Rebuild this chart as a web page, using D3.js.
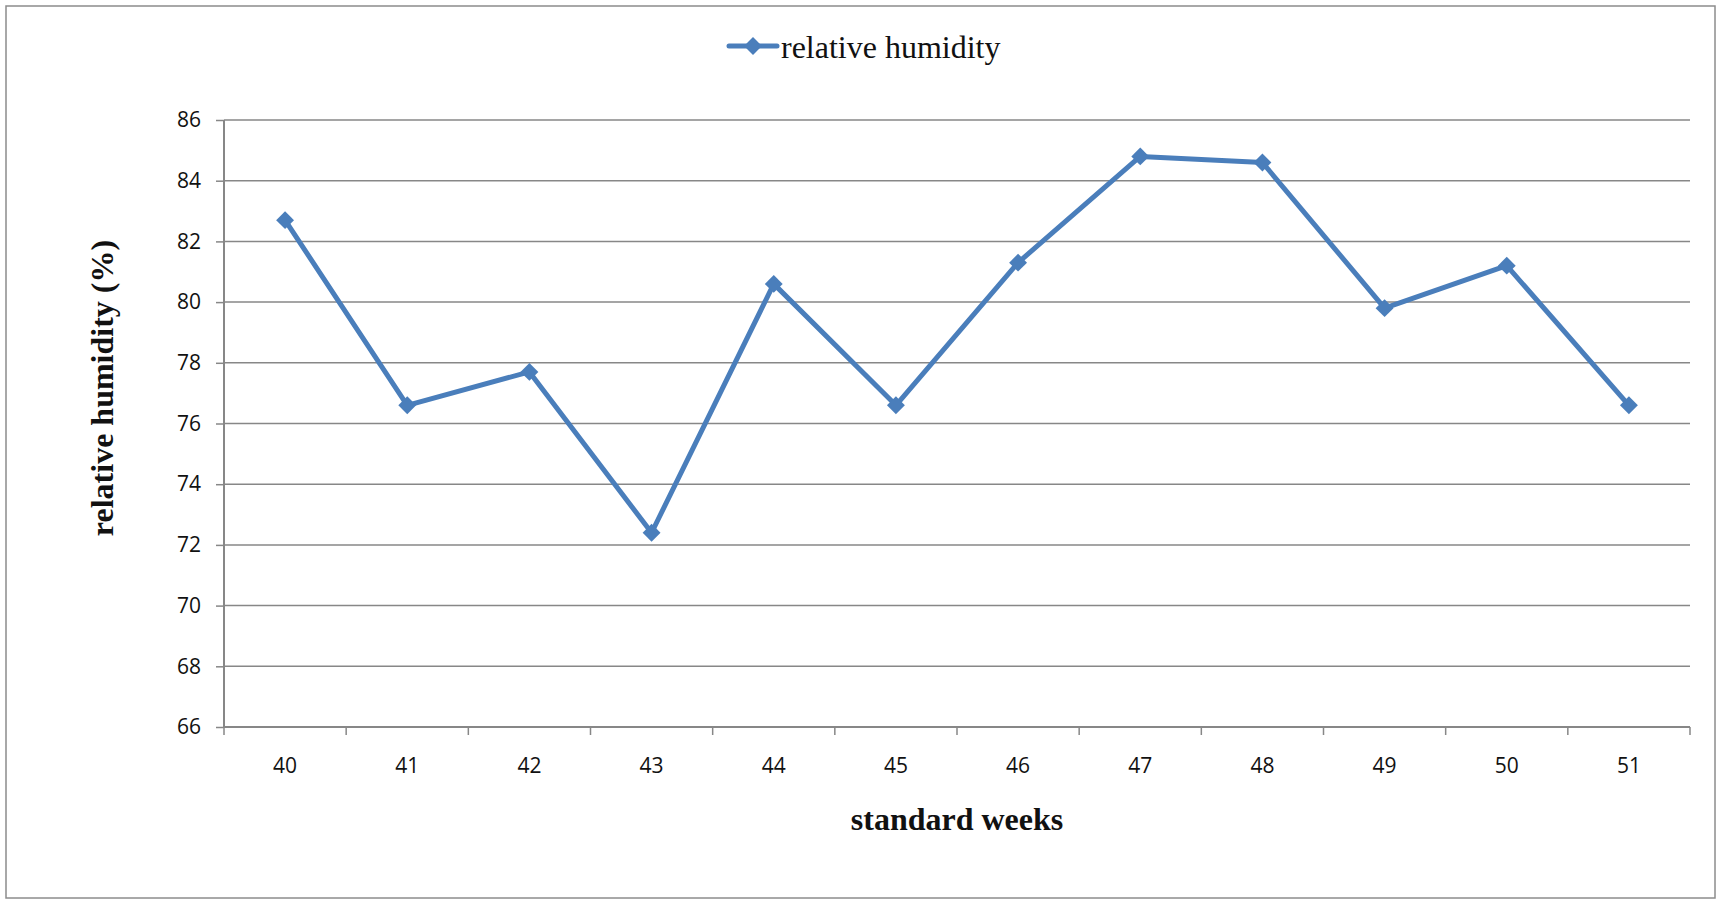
<!DOCTYPE html>
<html>
<head>
<meta charset="utf-8">
<script src="https://cdn.jsdelivr.net/npm/d3@7"></script>
<style>
  html, body { margin: 0; padding: 0; background: #fff; }
  svg { display: block; }
</style>
</head>
<body>
<svg id="chart" width="1721" height="900"></svg>
<script>
const weeks = ["40","41","42","43","44","45","46","47","48","49","50","51"];
const humidity = [82.7, 76.6, 77.7, 72.4, 80.6, 76.6, 81.3, 84.8, 84.6, 79.8, 81.2, 76.6];
const yTicks = [66, 68, 70, 72, 74, 76, 78, 80, 82, 84, 86];
const seriesName = "relative humidity";
const xTitle = "standard weeks";
const yTitle = "relative humidity (%)";

(function () {
const svg = d3.select("#chart");
const W = 1721, H = 900;
const pLeft = 224, pRight = 1690, pTop = 120, pBottom = 727;
const blue = "#4A7EBB";
const grid = "#878787";

// outer border
svg.append("rect").attr("x", 6).attr("y", 6).attr("width", W - 12).attr("height", H - 8)
  .attr("fill", "#fff").attr("stroke", "#8c8c8c").attr("stroke-width", 1.5);

const x = d3.scaleBand().domain(weeks).range([pLeft, pRight]).padding(0);
const y = d3.scaleLinear().domain([66, 86]).range([pBottom, pTop]);

// gridlines
svg.append("g").selectAll("line").data(yTicks.filter(d => d !== 66)).join("line")
  .attr("x1", pLeft).attr("x2", pRight)
  .attr("y1", d => y(d)).attr("y2", d => y(d))
  .attr("stroke", grid).attr("stroke-width", 1.5);

// y axis
const yAxis = svg.append("g").attr("transform", `translate(${pLeft},0)`)
  .call(d3.axisLeft(y).tickValues(yTicks).tickSize(8).tickPadding(15).tickFormat(d3.format("d")));
yAxis.select(".domain").attr("stroke", grid).attr("stroke-width", 2).attr("d", `M0,${pTop}V${pBottom}`);
yAxis.selectAll(".tick line").attr("stroke", grid).attr("stroke-width", 1.5);
yAxis.selectAll(".tick text").attr("font-family", "'Open Sans', sans-serif").attr("font-size", 21).attr("fill", "#111");

// x axis
const xAxis = svg.append("g").attr("transform", `translate(0,${pBottom})`)
  .call(d3.axisBottom(x).tickSize(0).tickPadding(31));
xAxis.select(".domain").attr("stroke", grid).attr("stroke-width", 2).attr("d", `M${pLeft},0H${pRight}`);
xAxis.selectAll(".tick text").attr("font-family", "'Open Sans', sans-serif").attr("font-size", 21).attr("fill", "#111");
const bounds = weeks.map(w => x(w)).concat([x(weeks[weeks.length-1]) + x.bandwidth()]);
svg.append("g").selectAll("line").data(bounds).join("line")
  .attr("x1", d => d).attr("x2", d => d).attr("y1", pBottom).attr("y2", pBottom + 8)
  .attr("stroke", grid).attr("stroke-width", 1.5);

// line
const cx = d => x(d) + x.bandwidth() / 2;
const line = d3.line().x((d, i) => cx(weeks[i])).y(d => y(d));
svg.append("path").datum(humidity).attr("d", line)
  .attr("fill", "none").attr("stroke", blue).attr("stroke-width", 5).attr("stroke-linejoin", "round");

svg.append("g").selectAll("path").data(humidity).join("path")
  .attr("d", d3.symbol().type(d3.symbolSquare).size(160))
  .attr("transform", (d, i) => `translate(${cx(weeks[i])},${y(d)}) rotate(45)`)
  .attr("fill", blue);

// legend
svg.append("line").attr("x1", 729).attr("x2", 777).attr("y1", 46).attr("y2", 46)
  .attr("stroke", blue).attr("stroke-width", 5).attr("stroke-linecap", "round");
svg.append("path").attr("d", d3.symbol().type(d3.symbolSquare).size(160))
  .attr("transform", "translate(753,46) rotate(45)").attr("fill", blue);
svg.append("text").attr("x", 781).attr("y", 58).text(seriesName)
  .attr("font-family", "'Liberation Serif', 'Times New Roman', serif").attr("font-size", 32).attr("fill", "#111");

// axis titles
svg.append("text").attr("x", (pLeft + pRight) / 2).attr("y", 830).attr("text-anchor", "middle")
  .text(xTitle).attr("font-family", "'Liberation Serif', 'Times New Roman', serif")
  .attr("font-weight", "bold").attr("font-size", 32).attr("fill", "#111");
svg.append("text").attr("transform", "translate(113,388) rotate(-90)").attr("text-anchor", "middle")
  .text(yTitle).attr("font-family", "'Liberation Serif', 'Times New Roman', serif")
  .attr("font-weight", "bold").attr("font-size", 32).attr("fill", "#111");
})();
</script>
</body>
</html>
